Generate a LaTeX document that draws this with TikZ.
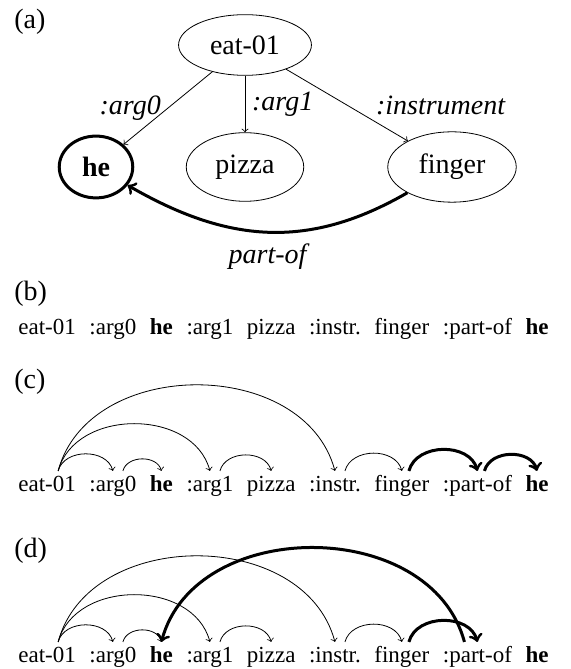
\documentclass[tikz,border=0pt]{standalone}
\usepackage{fontspec}
\setmainfont{Liberation Serif}
\usetikzlibrary{positioning,shapes.geometric}

\newcommand{\amrsize}{\fontsize{14}{16.8}\selectfont}
\newcommand{\toksize}{\fontsize{11.5}{13.8}\selectfont}

\tikzset{
  amr/.style={ellipse, draw, inner sep=6pt, font=\amrsize},
  rel/.style={font=\amrsize\itshape},
  tok/.style={font=\toksize, inner xsep=.32em, text height=.7em, text depth=.22em},
  panel/.style={font=\amrsize, anchor=west, inner sep=0pt},
  dep/.style={->, out=75, in=105, looseness=1.1},
  depback/.style={->, out=105, in=75, looseness=1.1},
  heavy/.style={line width=1.5pt}
}

\begin{document}
\begin{tikzpicture}[ ->, >=to, x=1pt, y=1pt
                   , thin
                   ]
      \useasboundingbox (0,0) rectangle (285,334.5);

      % (a) the graph
      \node (lbla) [panel] at (7,323.5) {(a)};
      \node (eat) [amr] at (122.5,312) {eat-01};
      \node (he) [amr, heavy] at (48,251) {\textbf{he}};
      \node (pizza) [amr] at (122.5,251) {pizza};
      \node (finger) [amr] at (226,251) {finger};

      \draw (eat) -- node [rel, left] {:arg0} (he);
      \draw (eat) -- node [rel, right] {:arg1} (pizza);
      \draw (eat) -- node [rel, right, xshift=11pt] {:instrument} (finger);
      \draw [heavy] (finger) to [out=-150, in=-30, looseness=1.05]
            node [rel, below=1.5pt] {part-of} (he);

      % (b)-(d) the token rows
      \foreach \r/\y/\ly in {b/167/187.5, c/88.5/143.5, d/3/59} {
        \node (lbl\r) [panel] at (7,\ly) {(\r)};
        \node (\r1) [tok, anchor=base west] at (5.8,\y) {eat-01};
        \node (\r2) [tok, base right=0pt of \r1] {:arg0};
        \node (\r3) [tok, base right=0pt of \r2] {\textbf{he}};
        \node (\r4) [tok, base right=0pt of \r3] {:arg1};
        \node (\r5) [tok, base right=0pt of \r4] {pizza};
        \node (\r6) [tok, base right=0pt of \r5] {:instr.};
        \node (\r7) [tok, base right=0pt of \r6] {finger};
        \node (\r8) [tok, base right=0pt of \r7] {:part-of};
        \node (\r9) [tok, base right=0pt of \r8] {\textbf{he}};
      }

      % arcs of (c) and (d)
      \foreach \r in {c,d} {
        \draw [dep] ([xshift=5.5pt]\r1.north) to (\r2.north);
        \draw [dep] ([xshift=5.5pt]\r1.north) to (\r4.north);
        \draw [dep] ([xshift=5.5pt]\r1.north) to (\r6.north);
        \draw [dep] ([xshift=5pt]\r2.north) to (\r3.north);
        \draw [dep] ([xshift=5pt]\r4.north) to (\r5.north);
        \draw [dep] ([xshift=5pt]\r6.north) to (\r7.north);
        \draw [dep, heavy] ([xshift=3.5pt]\r7.north) to (\r8.north);
      }
      \draw [dep, heavy] ([xshift=3.5pt]c8.north) to (c9.north);
      \draw [depback, heavy] ([xshift=-6.5pt]d8.north) to (d3.north);

\end{tikzpicture}
\end{document}
